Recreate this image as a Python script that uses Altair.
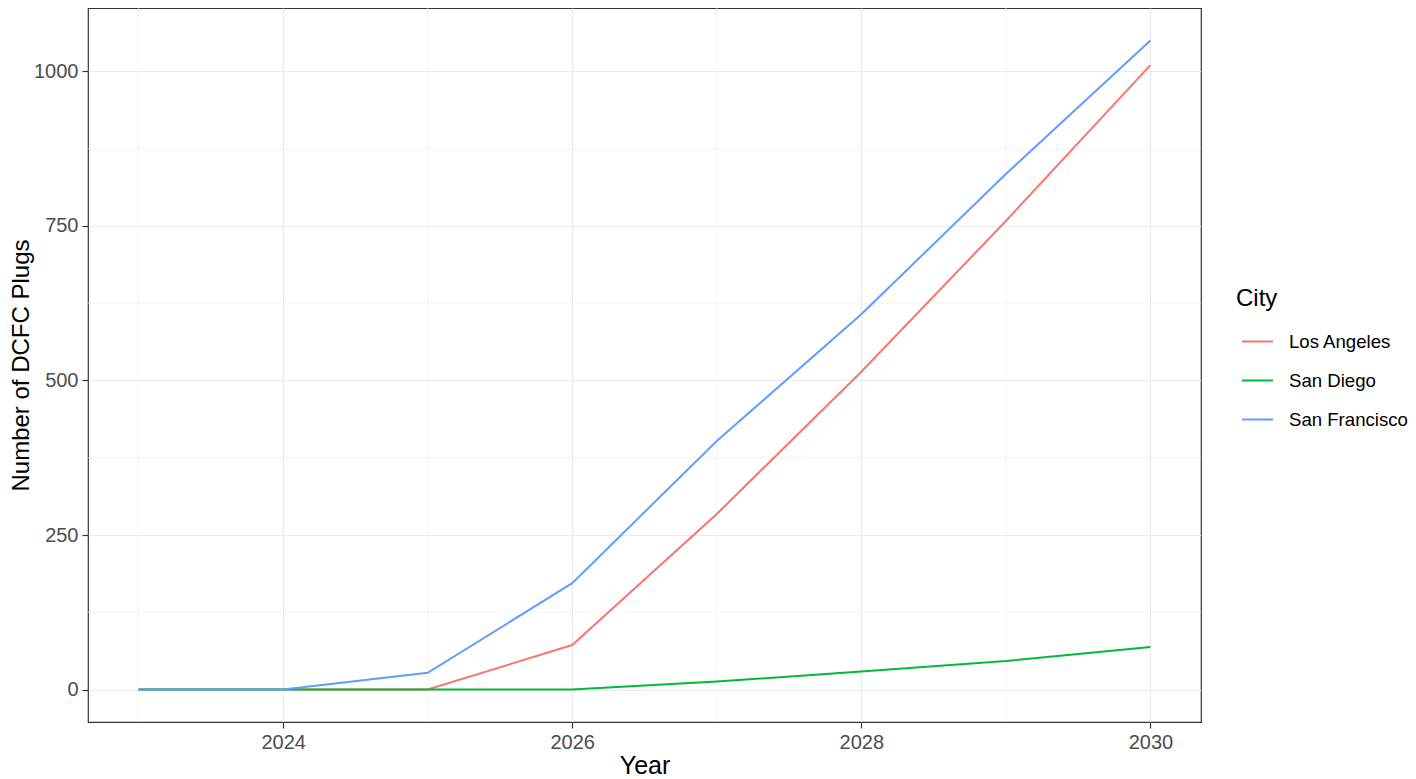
import altair as alt
import pandas as pd

years = [2023, 2024, 2025, 2026, 2027, 2028, 2029, 2030]
los_angeles = [0, 0, 0, 72, 284, 514, 758, 1010]
san_diego = [0, 0, 0, 0, 13, 29, 46, 69]
san_francisco = [0, 0, 27, 172, 402, 607, 834, 1050]
cities = ["Los Angeles", "San Diego", "San Francisco"]
colors = ["#F8766D", "#00BA38", "#619CFF"]

x_major = [2024, 2026, 2028, 2030]
x_minor = [2023, 2025, 2027, 2029]
y_major = [0, 250, 500, 750, 1000]
y_minor = [125, 375, 625, 875]

rows = []
for city, vals in zip(cities, [los_angeles, san_diego, san_francisco]):
    for yr, v in zip(years, vals):
        rows.append({"Year": yr, "Plugs": v, "City": city})
df = pd.DataFrame(rows)

xscale = alt.Scale(domain=[2022.65, 2030.35], nice=False, zero=False)
yscale = alt.Scale(domain=[-52.5, 1102.5], nice=False, zero=False)
xaxis = alt.Axis(values=x_major, format="d", title="Year")
yaxis = alt.Axis(values=y_major, format="d", title="Number of DCFC Plugs")

minor_x = alt.Chart(pd.DataFrame({"Year": x_minor})).mark_rule(
    color="#F2F2F2", strokeWidth=0.8
).encode(x=alt.X("Year:Q", scale=xscale, axis=xaxis))

minor_y = alt.Chart(pd.DataFrame({"Plugs": y_minor})).mark_rule(
    color="#F2F2F2", strokeWidth=0.8
).encode(y=alt.Y("Plugs:Q", scale=yscale, axis=yaxis))

lines = alt.Chart(df).mark_line(strokeWidth=2).encode(
    x=alt.X("Year:Q", scale=xscale, axis=xaxis),
    y=alt.Y("Plugs:Q", scale=yscale, axis=yaxis),
    color=alt.Color("City:N", scale=alt.Scale(domain=cities, range=colors),
                    legend=alt.Legend(title="City", orient="none",
                                      legendX=1148, legendY=279)),
)

chart = alt.layer(minor_x, minor_y, lines).properties(
    width=1113, height=714,
    autosize=alt.AutoSizeParams(type="none"),
    padding={"left": 80, "top": 0, "right": 207, "bottom": 57},
).configure_view(
    stroke="#333333", strokeWidth=1.2
).configure_axis(
    domain=False,
    grid=True, gridColor="#EBEBEB", gridWidth=1.2,
    tickColor="#333333", tickSize=6, tickWidth=1.2,
    labelColor="#4D4D4D", labelFontSize=20, labelFont="Liberation Sans",
    labelPadding=4,
    titleColor="#000000", titleFont="Liberation Sans",
    titleFontWeight="normal",
).configure_axisX(
    titlePadding=1, titleFontSize=25,
).configure_axisY(
    titlePadding=0, titleFontSize=24,
).configure_legend(
    titleFontSize=24, titleFont="Liberation Sans", titleFontWeight="normal",
    titleColor="#000000", titlePadding=14,
    labelFontSize=18.6, labelFont="Liberation Sans", labelColor="#000000",
    labelOffset=15, symbolOffset=5,
    symbolType="stroke", symbolStrokeWidth=2, symbolSize=961,
    rowPadding=12,
)

chart.save("out.html", embed_options={"renderer": "svg", "actions": False})
